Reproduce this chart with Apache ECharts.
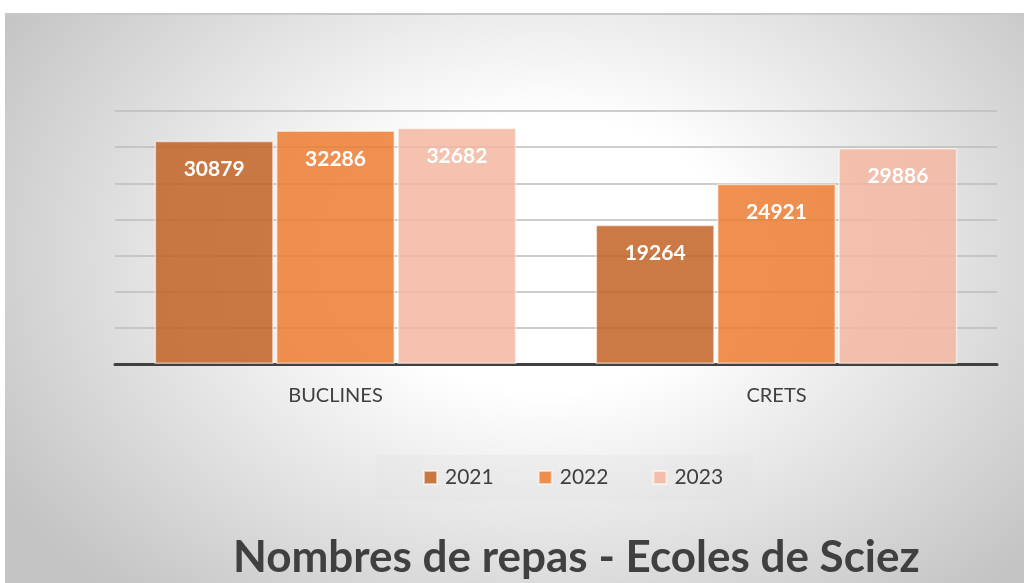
<!DOCTYPE html>
<html>
<head>
<meta charset="utf-8">
<script src="https://cdn.jsdelivr.net/npm/echarts@6/dist/echarts.min.js"></script>
<style>
  html, body { margin: 0; padding: 0; background: #fff; }
  .frame {
    position: absolute; left: 5px; top: 13px; width: 1019px; height: 570px;
    border-top: 2px solid #c8c8c8;
    background: radial-gradient(ellipse 62% 80% at 53% 42%, #ffffff 0%, #ffffff 30%, #c4c4c4 100%);
  }
  #chart { position: absolute; left: 0; top: 0; width: 1024px; height: 583px; }
</style>
</head>
<body>
<div class="frame"></div>
<div id="chart"></div>
<script>
const categories = ['BUCLINES', 'CRETS'];
const years = ['2021', '2022', '2023'];
const values2021 = [30879, 19264];
const values2022 = [32286, 24921];
const values2023 = [32682, 29886];

const colors = ['rgba(194, 99, 36, 0.85)', 'rgba(237, 125, 49, 0.85)', 'rgba(242, 183, 160, 0.85)'];
const font = 'Lato';

const chart = echarts.init(document.getElementById('chart'));

const makeSeries = (name, data, color) => ({
  name,
  type: 'bar',
  data,
  barWidth: 119,
  barGap: '2%',
  itemStyle: { color, borderColor: 'rgba(255,255,255,0.55)', borderWidth: 1.5 },
  label: {
    show: true,
    position: 'insideTop',
    distance: 18,
    color: '#fff',
    fontFamily: font,
    fontWeight: 'bold',
    fontSize: 21
  }
});

chart.setOption({
  backgroundColor: 'transparent',
  animation: false,
  title: {
    text: 'Nombres de repas - Ecoles de Sciez',
    left: 228,
    top: 531,
    textStyle: { fontFamily: font, fontWeight: 'bold', fontSize: 44, color: '#404040' }
  },
  graphic: [{
    type: 'rect',
    shape: { x: 376, y: 455, width: 377, height: 46 },
    style: { fill: 'rgba(225,225,225,0.3)' },
    z: -1
  }],
  legend: {
    data: years,
    icon: 'rect',
    left: 418,
    top: 462,
    itemWidth: 13,
    itemHeight: 13,
    itemGap: 44,
    textStyle: { fontFamily: font, fontSize: 21, color: '#404040', padding: [0, 0, 0, 3] }
  },
  grid: { left: 115, right: 27, top: 111, bottom: 219 },
  xAxis: {
    type: 'category',
    data: categories,
    axisLine: { lineStyle: { color: '#404040', width: 3 } },
    axisTick: { show: false },
    axisLabel: { color: '#404040', fontFamily: font, fontSize: 20, margin: 22 }
  },
  yAxis: {
    type: 'value',
    min: 0,
    max: 35000,
    interval: 5000,
    axisLabel: { show: false },
    axisLine: { show: false },
    splitLine: { lineStyle: { color: '#bcbcbc', width: 1.5 } }
  },
  series: [
    makeSeries(years[0], values2021, colors[0]),
    makeSeries(years[1], values2022, colors[1]),
    makeSeries(years[2], values2023, colors[2])
  ]
});
</script>
</body>
</html>
